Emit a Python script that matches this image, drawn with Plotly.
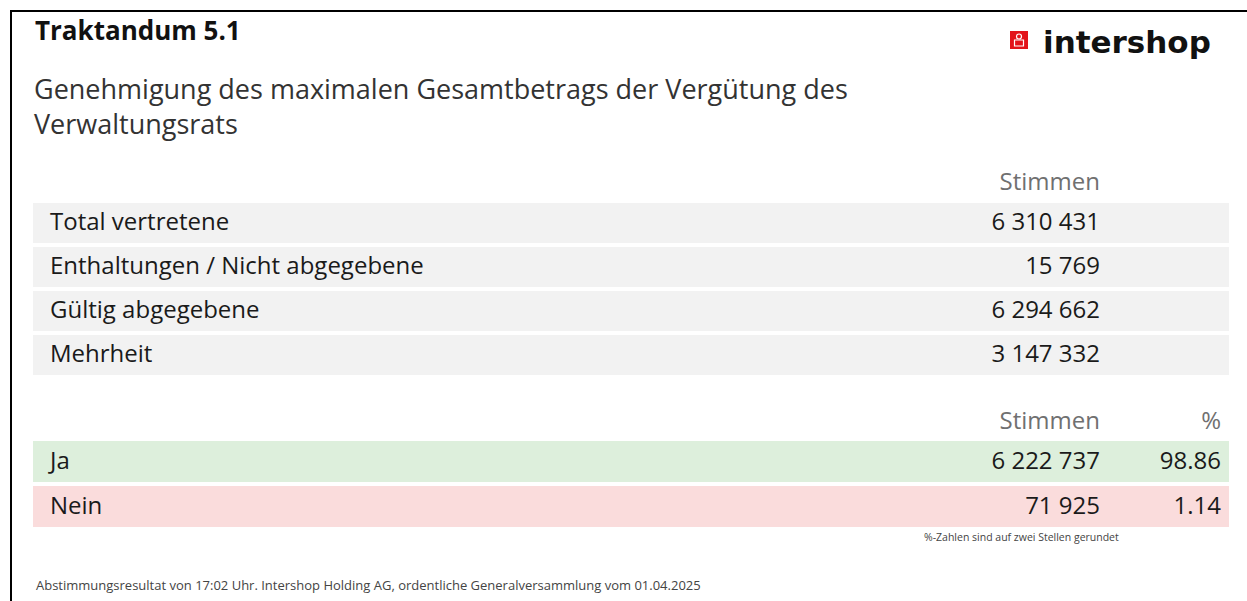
import plotly.graph_objects as go

W, H = 1247, 601

# ---- data ----
summary_labels = ["Total vertretene", "Enthaltungen / Nicht abgegebene", "Gültig abgegebene", "Mehrheit"]
summary_votes = [6310431, 15769, 6294662, 3147332]
vote_labels = ["Ja", "Nein"]
vote_counts = [6222737, 71925]
vote_pct = [98.86, 1.14]
col_header = "Stimmen"
pct_header = "%"

title = "Traktandum 5.1"
subtitle = "Genehmigung des maximalen Gesamtbetrags der Vergütung des<br>Verwaltungsrats"
footnote = "%-Zahlen sind auf zwei Stellen gerundet"
footer = "Abstimmungsresultat von 17:02 Uhr. Intershop Holding AG, ordentliche Generalversammlung vom 01.04.2025"

FONT = "Open Sans"


def fmt(n):
    return f"{n:,}".replace(",", " ")


def px(x):
    return x / W


def py(y):
    return 1 - y / H


fig = go.Figure()

# layout geometry (pixels)
band_x0, band_x1 = 33, 1229
text_x0 = 42
band_h = 40
col_w = [900 - text_x0, 208, 121]

top = dict(header_y=163, row_h=44, text_dy=1)
bot = dict(header_y=401, row_h=45, text_dy=2)


def table(labels, votes, pcts, geo, header_pct):
    n = len(labels)
    y0 = geo["header_y"] + geo["text_dy"]
    y1 = y0 + 40 + n * geo["row_h"]
    return go.Table(
        domain=dict(x=[px(text_x0), px(band_x1)], y=[py(y1), py(y0)]),
        columnwidth=col_w,
        header=dict(
            values=["", col_header, header_pct],
            align=["left", "right", "right"],
            fill_color="rgba(0,0,0,0)",
            line_width=0,
            height=40,
            font=dict(family=FONT, size=24, color="#707070"),
        ),
        cells=dict(
            values=[labels, [fmt(v) for v in votes], pcts],
            align=["left", "right", "right"],
            fill_color="rgba(0,0,0,0)",
            line_width=0,
            height=geo["row_h"],
            font=dict(family=FONT, size=24, color="#1a1a1a"),
        ),
    )


fig.add_trace(table(summary_labels, summary_votes, [""] * len(summary_labels), top, ""))
fig.add_trace(table(vote_labels, vote_counts, [f"{p:.2f}" for p in vote_pct], bot, pct_header))

shapes = []
for i in range(len(summary_labels)):
    y = top["header_y"] + 40 + i * top["row_h"]
    shapes.append(dict(type="rect", xref="paper", yref="paper", x0=px(band_x0), x1=px(band_x1),
                       y0=py(y + band_h), y1=py(y), fillcolor="#f2f2f2", line_width=0, layer="below"))
vote_colors = ["#ddefdc", "#fadcdc"]
for i in range(len(vote_labels)):
    y = bot["header_y"] + 40 + i * bot["row_h"]
    shapes.append(dict(type="rect", xref="paper", yref="paper", x0=px(band_x0), x1=px(band_x1),
                       y0=py(y + band_h + 1), y1=py(y), fillcolor=vote_colors[i], line_width=0, layer="below"))
# frame lines
shapes.append(dict(type="line", xref="paper", yref="paper", x0=px(10), x1=1, y0=py(11), y1=py(11),
                   line=dict(color="black", width=2)))
shapes.append(dict(type="line", xref="paper", yref="paper", x0=px(11), x1=px(11), y0=0, y1=py(10),
                   line=dict(color="black", width=2)))
# logo square
shapes.append(dict(type="rect", xref="paper", yref="paper", x0=px(1010), x1=px(1028), y0=py(49), y1=py(31),
                   fillcolor="#e3141b", line_width=0))
shapes.append(dict(type="circle", xref="paper", yref="paper", x0=px(1016.5), x1=px(1021.5), y0=py(39), y1=py(34),
                   fillcolor="rgba(0,0,0,0)", line=dict(color="white", width=1.2)))
shapes.append(dict(type="rect", xref="paper", yref="paper", x0=px(1014.5), x1=px(1023.5), y0=py(46), y1=py(40),
                   fillcolor="rgba(0,0,0,0)", line=dict(color="white", width=1.2)))

annotations = [
    dict(text=f"<b>{title}</b>", x=px(33), y=py(30), xanchor="left", yanchor="middle",
         font=dict(family=FONT, size=26, color="#111111")),
    dict(text=subtitle, x=px(32), y=py(68), xanchor="left", yanchor="top", align="left",
         font=dict(family=FONT, size=27, color="#333333")),
    dict(text="<b>intershop</b>", x=px(1041), y=py(42), xanchor="left", yanchor="middle",
         font=dict(family="DejaVu Sans", size=31, color="#111111")),
    dict(text=footnote, x=px(1121), y=py(537), xanchor="right", yanchor="middle",
         font=dict(family=FONT, size=10.5, color="#444444")),
    dict(text=footer, x=px(34), y=py(585), xanchor="left", yanchor="middle",
         font=dict(family=FONT, size=13, color="#444444")),
]
for a in annotations:
    a.update(xref="paper", yref="paper", showarrow=False)

fig.update_layout(
    width=W, height=H,
    margin=dict(l=0, r=0, t=0, b=0),
    paper_bgcolor="white", plot_bgcolor="white",
    shapes=shapes, annotations=annotations,
    showlegend=False,
)

fig.write_html("out.html", config={"displayModeBar": False},
               post_script="document.body.style.margin='0px';document.body.style.overflow='hidden';")
